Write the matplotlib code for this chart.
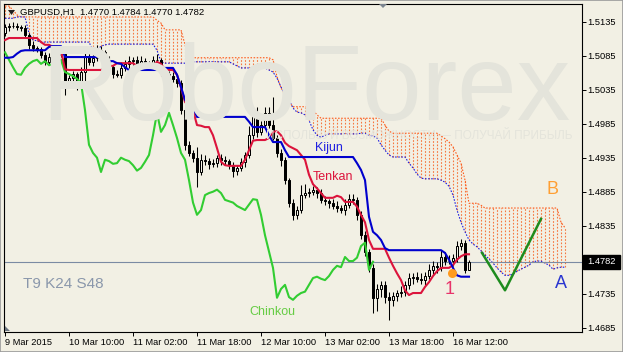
import matplotlib
matplotlib.use('Agg')
import matplotlib.pyplot as plt
import numpy as np
from matplotlib.patches import Polygon, Rectangle

plt.rcParams['font.family'] = ['Liberation Sans', 'DejaVu Sans']

# ---------------- data ----------------
symbol_text = "GBPUSD,H1  1.4770 1.4784 1.4770 1.4782"
first_open = 1.5118
close = [
    1.5127, 1.5129, 1.5129, 1.5127, 1.5126, 1.5115, 1.5101, 1.5096, 1.5095, 1.5086,
    1.5076, 1.5083, 1.5079, 1.5086, 1.5088, 1.5046, 1.5052, 1.5058, 1.5041, 1.5061,
    1.5085, 1.5076, 1.5082, 1.5093, 1.5090, 1.5079, 1.5068, 1.5058, 1.5057, 1.5067,
    1.5073, 1.5077, 1.5079, 1.5073, 1.5077, 1.5071, 1.5073, 1.5079, 1.5079, 1.5061,
    1.5058, 1.5055, 1.5051, 1.5045, 1.5005, 1.4954, 1.4942, 1.4935, 1.4914, 1.4932,
    1.4930, 1.4926, 1.4927, 1.4935, 1.4932, 1.4930, 1.4924, 1.4916, 1.4920, 1.4929,
    1.4939, 1.4968, 1.5001, 1.4973, 1.4983, 1.5001, 1.4983, 1.4964, 1.4942, 1.4932,
    1.4902, 1.4869, 1.4851, 1.4858, 1.4880, 1.4883, 1.4885, 1.4888, 1.4883, 1.4873,
    1.4871, 1.4869, 1.4864, 1.4861, 1.4858, 1.4866, 1.4874, 1.4873, 1.4851, 1.4821,
    1.4797, 1.4773, 1.4729, 1.4742, 1.4748, 1.4730, 1.4726, 1.4732, 1.4736, 1.4738,
    1.4748, 1.4758, 1.4760, 1.4757, 1.4755, 1.4761, 1.4770, 1.4776, 1.4774, 1.4789,
    1.4783, 1.4783, 1.4788, 1.4805, 1.4810, 1.4770, 1.4782]
# wick lengths beyond the body, in pips
upper_wick = [
    5, 4, 6, 4, 3, 4, 3, 5, 4, 3,
    4, 6, 3, 5, 4, 2, 4, 5, 3, 8,
    13, 6, 5, 8, 6, 4, 5, 3, 6, 9,
    5, 7, 4, 6, 8, 5, 4, 6, 9, 3,
    5, 4, 6, 3, 5, 3, 6, 5, 16, 8,
    7, 5, 6, 4, 5, 6, 3, 5, 4, 6,
    5, 14, 7, 8, 6, 9, 8, 41, 5, 6,
    4, 3, 5, 6, 15, 14, 5, 6, 4, 6,
    5, 4, 6, 7, 5, 9, 8, 7, 4, 5,
    6, 4, 5, 8, 6, 5, 7, 6, 5, 8,
    6, 8, 5, 7, 9, 6, 8, 7, 6, 10,
    7, 9, 6, 8, 6, 4, 2]
lower_wick = [
    4, 5, 3, 4, 5, 3, 6, 4, 5, 4,
    5, 3, 4, 6, 3, 19, 5, 4, 6, 5,
    15, 4, 6, 5, 4, 7, 5, 6, 4, 5,
    4, 6, 5, 3, 5, 4, 7, 5, 3, 6,
    9, 5, 4, 6, 5, 7, 5, 6, 22, 5,
    6, 7, 4, 5, 8, 6, 5, 9, 6, 4,
    8, 5, 6, 7, 5, 6, 4, 3, 6, 9,
    5, 7, 8, 6, 5, 4, 6, 5, 7, 5,
    6, 8, 5, 6, 4, 7, 5, 6, 8, 5,
    7, 6, 22, 20, 12, 8, 29, 9, 8, 6,
    7, 6, 8, 5, 6, 7, 4, 6, 8, 5,
    6, 5, 7, 6, 5, 4, 0]
tenkan = [
    1.5108, 1.5111, 1.5111, 1.5111, 1.5111, 1.5111, 1.5111, 1.5111, 1.5111, 1.5105,
    1.5101, 1.5101, 1.5098, 1.5098, 1.5093, 1.5065, 1.5064, 1.5064, 1.5064, 1.5064,
    1.5064, 1.5064, 1.5064, 1.5064, 1.5064, 1.5067, 1.5070, 1.5070, 1.5074, 1.5074,
    1.5074, 1.5074, 1.5074, 1.5070, 1.5070, 1.5070, 1.5070, 1.5070, 1.5076, 1.5073,
    1.5064, 1.5064, 1.5064, 1.5057, 1.5038, 1.5017, 1.5010, 1.5005, 1.4983, 1.4982,
    1.4980, 1.4980, 1.4968, 1.4949, 1.4929, 1.4924, 1.4923, 1.4923, 1.4923, 1.4923,
    1.4932, 1.4946, 1.4960, 1.4961, 1.4961, 1.4961, 1.4964, 1.4973, 1.4974, 1.4968,
    1.4957, 1.4952, 1.4949, 1.4946, 1.4939, 1.4932, 1.4910, 1.4896, 1.4890, 1.4883,
    1.4876, 1.4876, 1.4876, 1.4879, 1.4877, 1.4870, 1.4870, 1.4870, 1.4863, 1.4851,
    1.4840, 1.4814, 1.4801, 1.4801, 1.4801, 1.4801, 1.4788, 1.4776, 1.4765, 1.4755,
    1.4740, 1.4733, 1.4736, 1.4736, 1.4736, 1.4745, 1.4752, 1.4761, 1.4768, 1.4773,
    1.4773, 1.4773, 1.4777, 1.4785, 1.4790, 1.4793, 1.4793]
kijun = [
    1.5082, 1.5082, 1.5083, 1.5088, 1.5092, 1.5093, 1.5093, 1.5093, 1.5093, 1.5093,
    1.5093, 1.5098, 1.5099, 1.5099, 1.5099, 1.5083, 1.5083, 1.5083, 1.5083, 1.5083,
    1.5083, 1.5083, 1.5083, 1.5083, 1.5083, 1.5083, 1.5077, 1.5077, 1.5074, 1.5073,
    1.5068, 1.5064, 1.5064, 1.5064, 1.5064, 1.5064, 1.5064, 1.5064, 1.5064, 1.5067,
    1.5067, 1.5067, 1.5067, 1.5057, 1.5039, 1.5020, 1.5013, 1.5010, 1.4995, 1.4995,
    1.4995, 1.4995, 1.4995, 1.4995, 1.4995, 1.4995, 1.4995, 1.4995, 1.4995, 1.4995,
    1.4995, 1.4988, 1.4980, 1.4980, 1.4980, 1.4980, 1.4968, 1.4958, 1.4958, 1.4958,
    1.4946, 1.4936, 1.4936, 1.4936, 1.4936, 1.4936, 1.4936, 1.4936, 1.4936, 1.4936,
    1.4936, 1.4936, 1.4936, 1.4936, 1.4936, 1.4936, 1.4936, 1.4936, 1.4927, 1.4917,
    1.4902, 1.4848, 1.4826, 1.4821, 1.4814, 1.4802, 1.4799, 1.4799, 1.4799, 1.4799,
    1.4799, 1.4799, 1.4799, 1.4799, 1.4799, 1.4799, 1.4799, 1.4799, 1.4799, 1.4799,
    1.4795, 1.4785, 1.4773, 1.4762, 1.4760, 1.4760, 1.4760]
senkou_a = [
    1.5140, 1.5140, 1.5140, 1.5142, 1.5142, 1.5142, 1.5118, 1.5108, 1.5107, 1.5105,
    1.5105, 1.5105, 1.5105, 1.5105, 1.5105, 1.5105, 1.5105, 1.5105, 1.5105, 1.5105,
    1.5105, 1.5105, 1.5093, 1.5093, 1.5099, 1.5101, 1.5102, 1.5102, 1.5102, 1.5102,
    1.5102, 1.5102, 1.5102, 1.5102, 1.5102, 1.5102, 1.5102, 1.5102, 1.5093, 1.5076,
    1.5074, 1.5074, 1.5074, 1.5074, 1.5074, 1.5074, 1.5076, 1.5076, 1.5076, 1.5076,
    1.5076, 1.5076, 1.5076, 1.5076, 1.5076, 1.5076, 1.5076, 1.5073, 1.5070, 1.5067,
    1.5067, 1.5067, 1.5067, 1.5067, 1.5067, 1.5067, 1.5064, 1.5061, 1.5052, 1.5039,
    1.5027, 1.5020, 1.5008, 1.5002, 1.5001, 1.4998, 1.4990, 1.4976, 1.4968, 1.4965,
    1.4968, 1.4970, 1.4970, 1.4970, 1.4970, 1.4970, 1.4970, 1.4970, 1.4970, 1.4971,
    1.4971, 1.4968, 1.4967, 1.4964, 1.4954, 1.4946, 1.4939, 1.4936, 1.4936, 1.4936,
    1.4936, 1.4927, 1.4920, 1.4911, 1.4905, 1.4904, 1.4904, 1.4904, 1.4904, 1.4902,
    1.4899, 1.4893, 1.4880, 1.4858, 1.4840, 1.4826, 1.4814, 1.4808, 1.4804, 1.4798,
    1.4792, 1.4786, 1.4780, 1.4773, 1.4767, 1.4762, 1.4762, 1.4764, 1.4768, 1.4771,
    1.4774, 1.4777, 1.4782, 1.4783, 1.4783, 1.4780, 1.4777, 1.4771, 1.4773, 1.4774,
    1.4774]
senkou_b = [
    1.5158, 1.5158, 1.5152, 1.5145, 1.5142, 1.5142, 1.5142, 1.5142, 1.5142, 1.5142,
    1.5142, 1.5142, 1.5142, 1.5142, 1.5142, 1.5142, 1.5142, 1.5142, 1.5142, 1.5142,
    1.5142, 1.5142, 1.5142, 1.5142, 1.5142, 1.5142, 1.5142, 1.5142, 1.5142, 1.5142,
    1.5142, 1.5142, 1.5142, 1.5142, 1.5142, 1.5142, 1.5142, 1.5142, 1.5137, 1.5133,
    1.5123, 1.5123, 1.5123, 1.5123, 1.5123, 1.5101, 1.5082, 1.5082, 1.5082, 1.5082,
    1.5082, 1.5082, 1.5082, 1.5082, 1.5082, 1.5082, 1.5082, 1.5082, 1.5082, 1.5082,
    1.5082, 1.5082, 1.5082, 1.5082, 1.5082, 1.5082, 1.5082, 1.5079, 1.5054, 1.5038,
    1.5027, 1.5017, 1.5010, 1.5010, 1.5010, 1.5010, 1.5010, 1.5005, 1.4998, 1.4993,
    1.4993, 1.4993, 1.4993, 1.4993, 1.4993, 1.4993, 1.4993, 1.4993, 1.4993, 1.4993,
    1.4993, 1.4993, 1.4993, 1.4993, 1.4993, 1.4983, 1.4974, 1.4971, 1.4971, 1.4971,
    1.4971, 1.4971, 1.4971, 1.4971, 1.4971, 1.4971, 1.4971, 1.4971, 1.4971, 1.4967,
    1.4963, 1.4958, 1.4951, 1.4939, 1.4927, 1.4902, 1.4868, 1.4868, 1.4868, 1.4865,
    1.4861, 1.4861, 1.4861, 1.4861, 1.4861, 1.4861, 1.4861, 1.4861, 1.4861, 1.4861,
    1.4861, 1.4861, 1.4861, 1.4861, 1.4861, 1.4861, 1.4861, 1.4861, 1.4861, 1.4840,
    1.4832]
chinkou_shift = 24
current_price = 1.4782
forecast_bar = [119.25, 125.0, 134.0]
forecast_price = [1.4795, 1.4740, 1.4845]
cross_bar = [111.75]
cross_price = [1.4765]
ytick_values = [1.5135, 1.5085, 1.5035, 1.4985, 1.4935, 1.4885, 1.4835, 1.4735, 1.4685]
xtick_bars = [0, 16, 32, 48, 64, 80, 96, 112]
xtick_labels = ["9 Mar 2015", "10 Mar 10:00", "11 Mar 02:00", "11 Mar 18:00",
                "12 Mar 10:00", "13 Mar 02:00", "13 Mar 18:00", "16 Mar 12:00"]

# ---------------- figure ----------------
W, H = 623, 352
BG = '#F2F0E4'
fig = plt.figure(figsize=(W / 100, H / 100), dpi=100)
fig.patch.set_facecolor(BG)


def fx(px):
    return px / W


def fy(py):
    return 1 - py / H


ax = fig.add_axes([fx(4), fy(332), (582 - 4) / W, (332 - 4) / H])
ax.set_facecolor(BG)
ax.set_xlim(-0.25, 144.25)
ax.set_ylim(1.467868, 1.516103)

# watermark
fig.text(fx(41), fy(120), "RoboForex", fontsize=77, color='#E4E4DB',
         ha='left', va='baseline', zorder=0)
fig.text(fx(573), fy(136), "ИСПОЛЬЗУЙ ВОЗМОЖНОСТИ — ПОЛУЧАЙ ПРИБЫЛЬ", fontsize=8.5,
         color='#E4E4DB', ha='right', va='center', zorder=0)
ax.patch.set_alpha(0)

n = len(close)
x = np.arange(n)
c = np.array(close)
o = np.array([first_open] + close[:-1])
hi = np.maximum(o, c) + np.array(upper_wick) * 0.0001
lo = np.minimum(o, c) - np.array(lower_wick) * 0.0001

# cloud
k = np.arange(len(senkou_a))
ax.vlines(k, senkou_a, senkou_b, colors='#F5773F', lw=0.8,
          linestyles=[(0, (1.5, 1.5))], zorder=1)
ax.plot(k, senkou_b, color='#FF5A1A', lw=0.8, ls=(0, (1.4, 1.4)), zorder=2)
ax.plot(k, senkou_a, color='#1A1AE0', lw=0.8, ls=(0, (1.4, 1.4)), zorder=2)

# current price line
ax.axhline(current_price, color='#7B8BA3', lw=0.8, zorder=2)

# candles
ax.vlines(x, lo, hi, colors='black', lw=0.75, zorder=4)
up = c >= o
ax.bar(x[up], (c - o)[up], bottom=o[up], width=0.55, color=BG,
       edgecolor='black', lw=0.72, zorder=5)
ax.bar(x[~up], (o - c)[~up], bottom=c[~up], width=0.55, color='black',
       edgecolor='black', lw=0.72, zorder=5)

# ichimoku lines
ax.plot(np.arange(n - chinkou_shift), c[chinkou_shift:], color='#32CD32', lw=1.5, zorder=6)
ax.plot(x, tenkan, color='#DC143C', lw=1.5, zorder=7)
ax.plot(x, kijun, color='#0000CD', lw=1.5, zorder=7)

# forecast & cross point
ax.plot(forecast_bar, forecast_price, color='#1E8C1E', lw=1.8, zorder=8)
ax.plot(cross_bar, cross_price, 'o', color='#FF9A1F', ms=6.5, mec='none', zorder=8)

# axes styling
for s in ax.spines.values():
    s.set_color('black')
    s.set_linewidth(0.8)
ax.yaxis.tick_right()
ax.set_yticks(ytick_values)
ax.set_yticklabels([f"{v:.4f}" for v in ytick_values])
ax.tick_params(axis='y', direction='out', length=3, width=0.7, pad=1.0,
               labelsize=6.7, colors='black')
ax.set_xticks(xtick_bars)
ax.set_xticklabels(xtick_labels)
ax.tick_params(axis='x', direction='out', length=3, width=0.7, pad=1.5,
               labelsize=6.7, colors='black')
for lab in ax.get_xticklabels():
    lab.set_ha('left')

# current price box
fig.patches.append(Rectangle((fx(583), fy(269)), 37 / W, 14 / H, transform=fig.transFigure,
                             facecolor='black', edgecolor='black', zorder=10))
fig.text(fx(587), fy(262), f"{current_price:.4f}", color='white', fontsize=6.7,
         ha='left', va='center', zorder=11)

# texts
fig.text(fx(20), fy(12), symbol_text, fontsize=6.8, color='black', ha='left', va='center', zorder=12)
fig.patches.append(Polygon([[fx(8), fy(10)], [fx(15), fy(10)], [fx(11.5), fy(15)]],
                           closed=True, transform=fig.transFigure, facecolor='#202020', zorder=12))
fig.patches.append(Polygon([[fx(379), fy(4)], [fx(387), fy(4)], [fx(383), fy(8)]],
                           closed=True, transform=fig.transFigure, facecolor='#7C8590', zorder=12))
fig.patches.append(Polygon([[fx(5), fy(331)], [fx(10), fy(331)], [fx(5), fy(326)]],
                           closed=True, transform=fig.transFigure, facecolor='#6B7480', zorder=12))

fig.text(fx(329), fy(148), "Kijun", fontsize=9, color='#2020E0', ha='center', va='center', zorder=12)
fig.text(fx(333), fy(177), "Tenkan", fontsize=9, color='#DC143C', ha='center', va='center', zorder=12)
fig.text(fx(272), fy(312), "Chinkou", fontsize=9, color='#66CC44', ha='center', va='center', zorder=12)
fig.text(fx(23), fy(284), "T9 K24 S48", fontsize=11, color='#8A97AB', ha='left', va='center', zorder=12)
fig.text(fx(450), fy(290), "1", fontsize=13, color='#E8336A', ha='center', va='center', zorder=12)
fig.text(fx(553), fy(190), "B", fontsize=13, color='#FF9F33', ha='center', va='center', zorder=12)
fig.text(fx(561), fy(284), "A", fontsize=13, color='#2A36D0', ha='center', va='center', zorder=12)

# window border
fig.patches.append(Rectangle((0, 0), 1, 1, transform=fig.transFigure, fill=False,
                             edgecolor='#9A9A9A', lw=1.2, zorder=20))

fig.savefig('out.png', dpi=100, facecolor=BG)
